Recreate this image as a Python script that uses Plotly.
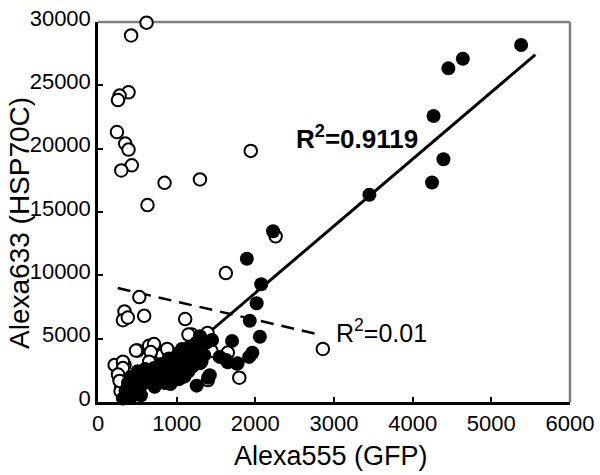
import plotly.graph_objects as go

# Open circles (Alexa555, Alexa633)
open_x = [617, 421, 388, 275, 254, 241, 346, 388, 429, 296, 846, 1296, 1942, 629, 2258, 1625, 2858,
          525, 587, 337, 317, 379, 1108, 1192, 1392, 1442, 1650, 1796, 1396,
          504, 712, 650, 671, 254, 337, 296, 900, 817, 275, 296, 287, 671, 962,
          212, 317, 317, 483, 650, 712, 671, 900, 879, 650, 1150, 254, 275]
open_y = [29950, 28940, 24450, 24190, 23840, 21310, 20400, 19925, 18690, 18280, 17300, 17575, 19825, 15550, 13080, 10175, 4190,
          8280, 6800, 7150, 6460, 6665, 6550, 5325, 5450, 4030, 3900, 1920, 1730,
          4065, 4490, 4320, 3310, 2930, 2930, 2425, 3990, 3690, 1795, 1290, 855, 2675, 3430,
          2930, 3180, 2675, 4065, 4445, 4570, 3940, 3940, 4190, 3180, 5325, 2175, 1665]

# Filled circles
fill_x = [5379, 4638, 4454, 4266, 4391, 4246, 3450, 2225, 1892, 2075, 2017, 1929, 2058, 1704, 1962, 1921,
          1546, 1650, 1766, 1421, 1316, 1316, 1296, 1629, 1775,
          317, 358, 400, 462, 504, 567, 650, 754, 796, 858, 921, 1025, 1025, 1087, 1066, 1212, 1254, 1296,
          1400, 1254, 462, 546, 421, 712, 858, 962, 1150, 1171, 900, 629,
          380, 420, 350, 500, 600, 700, 800, 950, 1000, 1100, 1200, 1350, 1380, 1450, 550, 720, 850, 1150, 1050]
fill_y = [28180, 27100, 26340, 22580, 19170, 17325, 16360, 13485, 11310, 9295, 7800, 6415, 5150, 4825, 3890, 3560,
          3560, 3130, 3010, 2120, 4450, 3180, 5200, 3310, 3055,
          280, 530, 1160, 1795, 2425, 1415, 1795, 1665, 2425, 2805, 1415, 1795, 2805, 3430, 4190, 3940, 4700, 3055,
          1920, 1290, 910, 530, 400, 2675, 2045, 2300, 2425, 3310, 3430, 2175,
          1500, 2000, 900, 1300, 2600, 2000, 3000, 2900, 3600, 2000, 2800, 3700, 4700, 4900, 1900, 1200, 1500, 4300, 2400]

# Fit lines (endpoints)
fit_solid_x = [400, 5560]
fit_solid_y = [150, 27430]
fit_dash_x = [250, 2830]
fit_dash_y = [9000, 5300]

xticks = [0, 1000, 2000, 3000, 4000, 5000, 6000]
yticks = [0, 5000, 10000, 15000, 20000, 25000, 30000]

FONT = "Liberation Sans, Arial, sans-serif"

fig = go.Figure()
fig.add_trace(go.Scatter(x=fit_dash_x, y=fit_dash_y, mode="lines",
                         line=dict(color="black", width=2.5, dash="13px,8px"), hoverinfo="skip"))
fig.add_trace(go.Scatter(x=fit_solid_x, y=fit_solid_y, mode="lines",
                         line=dict(color="black", width=3), hoverinfo="skip"))
fig.add_trace(go.Scatter(x=open_x, y=open_y, mode="markers", cliponaxis=False,
                         marker=dict(size=12.5, color="white", line=dict(color="black", width=2))))
fig.add_trace(go.Scatter(x=fill_x, y=fill_y, mode="markers", cliponaxis=False,
                         marker=dict(size=14, color="black", line=dict(color="black", width=0))))

axis_common = dict(showgrid=False, zeroline=False, showline=True, linecolor="black", linewidth=2.5,
                   ticks="inside", ticklen=5, tickwidth=2, tickcolor="black",
                   ticklabeloverflow="allow",
                   tickfont=dict(family=FONT, size=22, color="black"))

fig.update_layout(
    width=600, height=475,
    margin=dict(l=98, r=22, t=6, b=73),
    paper_bgcolor="white", plot_bgcolor="white",
    showlegend=False,
    xaxis=dict(range=[0, 6000], tickvals=xticks, ticktext=[str(v) for v in xticks], **axis_common),
    yaxis=dict(range=[0, 30000], tickvals=yticks, ticktext=[str(v) for v in yticks],
               ticklabelshift=-4, **axis_common),
    shapes=[
        dict(type="line", xref="paper", yref="paper", x0=0, x1=1, y0=1, y1=1,
             line=dict(color="#808080", width=2.5), layer="below"),
        dict(type="line", xref="paper", yref="paper", x0=1, x1=1, y0=0, y1=1,
             line=dict(color="#808080", width=2.5), layer="below"),
    ],
    annotations=[
        dict(text="<b>R<sup>2</sup>=0.9119</b>", x=2487, y=20900, xref="x", yref="y",
             xanchor="left", yanchor="middle", showarrow=False,
             font=dict(family=FONT, size=26, color="black")),
        dict(text="R<sup>2</sup>=0.01", x=3000, y=5600, xref="x", yref="y",
             xanchor="left", yanchor="middle", showarrow=False,
             font=dict(family=FONT, size=25, color="black")),
        dict(text="Alexa555 (GFP)", x=0.494, y=-0.1414, xref="paper", yref="paper",
             xanchor="center", yanchor="middle", showarrow=False,
             font=dict(family=FONT, size=27, color="black")),
        dict(text="Alexa633 (HSP70C)", x=-0.1667, y=0.472, xref="paper", yref="paper",
             xanchor="center", yanchor="middle", showarrow=False, textangle=-90,
             font=dict(family=FONT, size=28, color="black")),
    ],
)

fig.write_html("out.html", config={"displayModeBar": False},
               post_script="document.body.style.margin='0px';document.body.style.padding='0px';")
